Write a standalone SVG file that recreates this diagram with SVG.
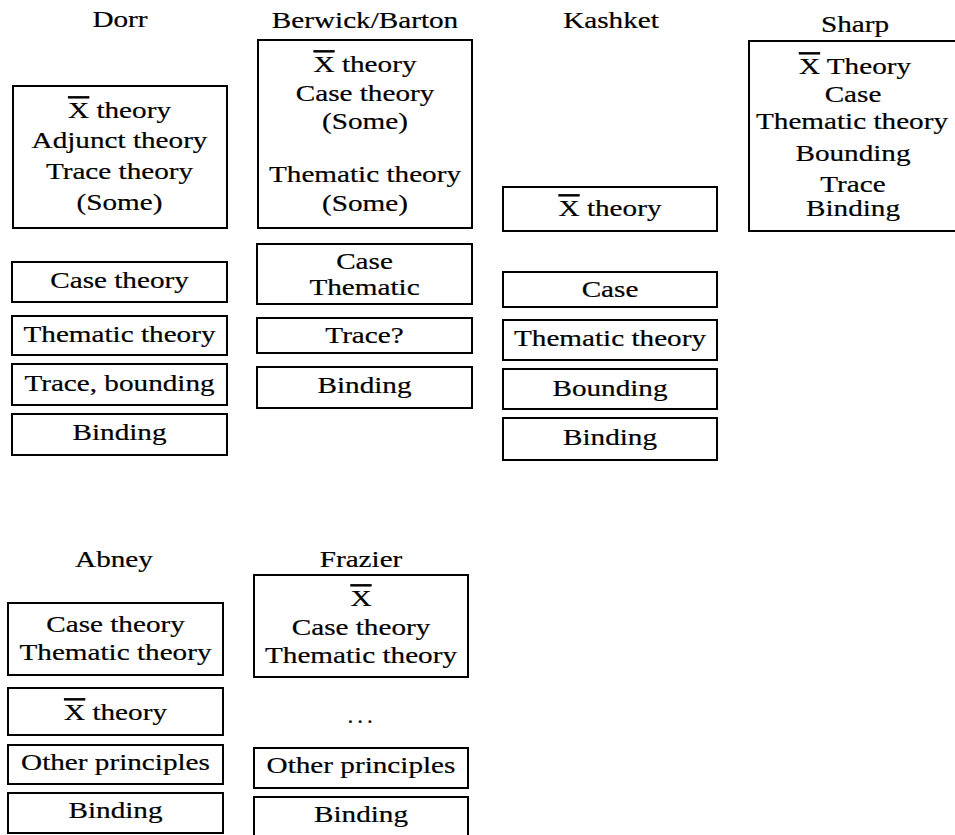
<svg xmlns="http://www.w3.org/2000/svg" width="955" height="835" viewBox="0 0 955 835">
<style>
.box{fill:none;stroke:#000;stroke-width:2}
.t{font-family:"Liberation Serif","Times New Roman",serif;font-size:23px;text-anchor:middle;fill:#000;stroke:#000;stroke-width:0.2}
.ol{text-decoration:overline}
</style>
<rect width="955" height="835" fill="#fff"/>
<g id="connectors"/>

<!-- Dorr -->
<g id="dorr">
<text class="t" transform="translate(120 27) scale(1.27 1)">Dorr</text>
<rect class="box" x="13" y="86" width="214" height="142"/>
<text class="t" transform="translate(119.5 118) scale(1.27 1)"><tspan class="ol">X</tspan> theory</text>
<text class="t" transform="translate(119.5 148) scale(1.27 1)">Adjunct theory</text>
<text class="t" transform="translate(119.5 179) scale(1.27 1)">Trace theory</text>
<text class="t" transform="translate(119.5 210) scale(1.27 1)">(Some)</text>
</g>
<g id="dorr-case"><rect class="box" x="12" y="262" width="215" height="40"/><text class="t" transform="translate(119.5 288) scale(1.27 1)">Case theory</text></g>
<g id="dorr-thematic"><rect class="box" x="12" y="316" width="215" height="39"/><text class="t" transform="translate(119.5 342) scale(1.27 1)">Thematic theory</text></g>
<g id="dorr-trace"><rect class="box" x="12" y="364" width="215" height="41"/><text class="t" transform="translate(119.5 391) scale(1.27 1)">Trace, bounding</text></g>
<g id="dorr-binding"><rect class="box" x="12" y="414" width="215" height="41"/><text class="t" transform="translate(119.5 440) scale(1.27 1)">Binding</text></g>

<!-- Berwick/Barton -->
<g id="berwick">
<text class="t" transform="translate(365 28) scale(1.27 1)">Berwick/Barton</text>
<rect class="box" x="258" y="40" width="214" height="188"/>
<text class="t" transform="translate(365 72) scale(1.27 1)"><tspan class="ol">X</tspan> theory</text>
<text class="t" transform="translate(365 101) scale(1.27 1)">Case theory</text>
<text class="t" transform="translate(365 129) scale(1.27 1)">(Some)</text>
<text class="t" transform="translate(365 182) scale(1.27 1)">Thematic theory</text>
<text class="t" transform="translate(365 211) scale(1.27 1)">(Some)</text>
</g>
<g id="berwick-case"><rect class="box" x="257" y="244" width="215" height="60"/><text class="t" transform="translate(364.5 269) scale(1.27 1)">Case</text><text class="t" transform="translate(364.5 295) scale(1.27 1)">Thematic</text></g>
<g id="berwick-trace"><rect class="box" x="257" y="318" width="215" height="35"/><text class="t" transform="translate(364.5 343) scale(1.27 1)">Trace?</text></g>
<g id="berwick-binding"><rect class="box" x="257" y="367" width="215" height="41"/><text class="t" transform="translate(364.5 393) scale(1.27 1)">Binding</text></g>

<!-- Kashket -->
<g id="kashket">
<text class="t" transform="translate(611 28) scale(1.27 1)">Kashket</text>
<rect class="box" x="503" y="187" width="214" height="44"/>
<text class="t" transform="translate(610 216) scale(1.27 1)"><tspan class="ol">X</tspan> theory</text>
</g>
<g id="kashket-case"><rect class="box" x="503" y="272" width="214" height="35"/><text class="t" transform="translate(610 297) scale(1.27 1)">Case</text></g>
<g id="kashket-thematic"><rect class="box" x="503" y="320" width="214" height="40"/><text class="t" transform="translate(610 346) scale(1.27 1)">Thematic theory</text></g>
<g id="kashket-bounding"><rect class="box" x="503" y="369" width="214" height="40"/><text class="t" transform="translate(610 396) scale(1.27 1)">Bounding</text></g>
<g id="kashket-binding"><rect class="box" x="503" y="418" width="214" height="42"/><text class="t" transform="translate(610 445) scale(1.27 1)">Binding</text></g>

<!-- Sharp -->
<g id="sharp">
<text class="t" transform="translate(855 32) scale(1.27 1)">Sharp</text>
<rect class="box" x="749" y="41" width="215" height="190"/>
<text class="t" transform="translate(855 74) scale(1.27 1)"><tspan class="ol">X</tspan> Theory</text>
<text class="t" transform="translate(853 102) scale(1.27 1)">Case</text>
<text class="t" transform="translate(852 129) scale(1.27 1)">Thematic theory</text>
<text class="t" transform="translate(853 161) scale(1.27 1)">Bounding</text>
<text class="t" transform="translate(853 192) scale(1.27 1)">Trace</text>
<text class="t" transform="translate(853 216) scale(1.27 1)">Binding</text>
</g>

<!-- Abney -->
<g id="abney">
<text class="t" transform="translate(114 567) scale(1.27 1)">Abney</text>
<rect class="box" x="8" y="603" width="215" height="72"/>
<text class="t" transform="translate(115.5 632) scale(1.27 1)">Case theory</text>
<text class="t" transform="translate(115.5 660) scale(1.27 1)">Thematic theory</text>
</g>
<g id="abney-xbar"><rect class="box" x="8" y="688" width="215" height="47"/><text class="t" transform="translate(115.5 720) scale(1.27 1)"><tspan class="ol">X</tspan> theory</text></g>
<g id="abney-other"><rect class="box" x="8" y="745" width="215" height="39"/><text class="t" transform="translate(115.5 770) scale(1.27 1)">Other principles</text></g>
<g id="abney-binding"><rect class="box" x="8" y="793" width="215" height="40"/><text class="t" transform="translate(115.5 818) scale(1.27 1)">Binding</text></g>

<!-- Frazier -->
<g id="frazier">
<text class="t" transform="translate(361 567) scale(1.27 1)">Frazier</text>
<rect class="box" x="254" y="575" width="214" height="102"/>
<text class="t" transform="translate(361 606) scale(1.27 1)"><tspan class="ol">X</tspan></text>
<text class="t" transform="translate(361 635) scale(1.27 1)">Case theory</text>
<text class="t" transform="translate(361 663) scale(1.27 1)">Thematic theory</text>
</g>
<g id="frazier-dots"><text class="t" style="letter-spacing:4px" transform="translate(362 723)">...</text></g>
<g id="frazier-other"><rect class="box" x="254" y="748" width="214" height="40"/><text class="t" transform="translate(361 773) scale(1.27 1)">Other principles</text></g>
<g id="frazier-binding"><rect class="box" x="254" y="797" width="214" height="45"/><text class="t" transform="translate(361 822) scale(1.27 1)">Binding</text></g>
</svg>
